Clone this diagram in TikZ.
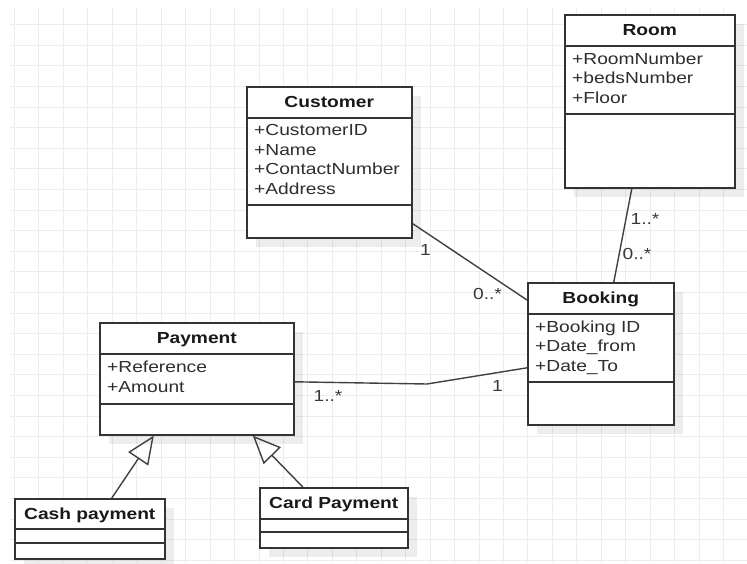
\documentclass[tikz,border=0pt]{standalone}
\usepackage{fontspec}
\newfontfamily\umlfont[FakeStretch=1.2]{Liberation Sans}
\usetikzlibrary{arrows.meta,shadows}

\begin{document}
\begin{tikzpicture}[x=1pt,y=-1pt,
    umlclass/.style={draw=black!80,line width=1.6pt,fill=white,anchor=north west,inner sep=0pt,
      drop shadow={shadow xshift=9pt,shadow yshift=-9pt,fill=black,opacity=0.07}},
    umltitle/.style={font=\umlfont\bfseries\fontsize{16}{19}\selectfont,text=black!90,inner sep=0pt,anchor=base},
    umlattr/.style={font=\umlfont\fontsize{16}{19.4}\selectfont,text=black!82,inner sep=0pt,anchor=north west,align=left},
    umlsep/.style={draw=black!80,line width=1.6pt},
    assoc/.style={draw=black!75,line width=1.4pt},
    inherit/.style={assoc,-{Triangle[open,length=28pt,width=24pt]}},
    mult/.style={font=\umlfont\fontsize{16}{19}\selectfont,text=black!78,inner sep=0pt}]

    \useasboundingbox (0,0) rectangle (747,563);
    \foreach \k in {0,...,29} \draw[black!7,line width=1pt] (14.5+24.45*\k,8) -- (14.5+24.45*\k,563);
    \foreach \k in {1,...,27} \draw[black!7,line width=1pt] (10,4.1+20.6*\k) -- (747,4.1+20.6*\k);

    \node[umlclass,minimum width=170pt,minimum height=173pt] (room) at (564,14) {};
    \node[umltitle] (room-title) at ([yshift=-21pt]room.north) {Room};
    \draw[umlsep] ([yshift=-32pt]room.north west) -- ([yshift=-32pt]room.north east);
    \draw[umlsep] ([yshift=-100pt]room.north west) -- ([yshift=-100pt]room.north east);
    \node[umlattr] (room-attr) at ([xshift=8pt,yshift=-38.5pt]room.north west) {+RoomNumber\\+bedsNumber\\+Floor};

    \node[umlclass,minimum width=165pt,minimum height=151pt] (customer) at (246,86) {};
    \node[umltitle] (customer-title) at ([yshift=-21pt]customer.north) {Customer};
    \draw[umlsep] ([yshift=-32pt]customer.north west) -- ([yshift=-32pt]customer.north east);
    \draw[umlsep] ([yshift=-119pt]customer.north west) -- ([yshift=-119pt]customer.north east);
    \node[umlattr] (customer-attr) at ([xshift=8pt,yshift=-38.5pt]customer.north west) {+CustomerID\\+Name\\+ContactNumber\\+Address};

    \node[umlclass,minimum width=146pt,minimum height=142pt] (booking) at (527,282) {};
    \node[umltitle] (booking-title) at ([yshift=-21pt]booking.north) {Booking};
    \draw[umlsep] ([yshift=-32pt]booking.north west) -- ([yshift=-32pt]booking.north east);
    \draw[umlsep] ([yshift=-100pt]booking.north west) -- ([yshift=-100pt]booking.north east);
    \node[umlattr] (booking-attr) at ([xshift=8pt,yshift=-38.5pt]booking.north west) {+Booking ID\\+Date\_from\\+Date\_To};

    \node[umlclass,minimum width=194pt,minimum height=112pt] (payment) at (99,322) {};
    \node[umltitle] (payment-title) at ([yshift=-21pt]payment.north) {Payment};
    \draw[umlsep] ([yshift=-32pt]payment.north west) -- ([yshift=-32pt]payment.north east);
    \draw[umlsep] ([yshift=-82pt]payment.north west) -- ([yshift=-82pt]payment.north east);
    \node[umlattr] (payment-attr) at ([xshift=8pt,yshift=-39pt]payment.north west) {+Reference\\+Amount};

    \node[umlclass,minimum width=150pt,minimum height=60pt] (cash) at (14,498) {};
    \node[umltitle] (cash-title) at ([yshift=-21pt]cash.north) {Cash payment};
    \draw[umlsep] ([yshift=-31pt]cash.north west) -- ([yshift=-31pt]cash.north east);
    \draw[umlsep] ([yshift=-45pt]cash.north west) -- ([yshift=-45pt]cash.north east);

    \node[umlclass,minimum width=148pt,minimum height=60pt] (card) at (259,487) {};
    \node[umltitle] (card-title) at ([yshift=-21pt]card.north) {Card Payment};
    \draw[umlsep] ([yshift=-32pt]card.north west) -- ([yshift=-32pt]card.north east);
    \draw[umlsep] ([yshift=-45pt]card.north west) -- ([yshift=-45pt]card.north east);

    \coordinate (bend) at (427,384);
    \draw[assoc] ([yshift=15pt]customer.south east) -- ([yshift=-18pt]booking.north west);
    \draw[assoc] ([xshift=-18pt]room.south) -- ([xshift=13pt]booking.north);
    \draw[assoc] ([yshift=-3pt]payment.east) -- (bend) -- ([yshift=-14pt]booking.west);
    \draw[inherit] ([xshift=22pt]cash.north) -- ([xshift=-43pt]payment.south);
    \draw[inherit] ([xshift=-31pt]card.north) -- ([xshift=56pt]payment.south);

    \node[mult] (m-customer) at (425.5,250) {1};
    \node[mult] (m-booking-customer) at (487.5,293.5) {0..*};
    \node[mult] (m-room) at (645,219) {1..*};
    \node[mult] (m-booking-room) at (637,254) {0..*};
    \node[mult] (m-payment) at (328,396) {1..*};
    \node[mult] (m-booking-payment) at (497.5,386) {1};
\end{tikzpicture}
\end{document}
